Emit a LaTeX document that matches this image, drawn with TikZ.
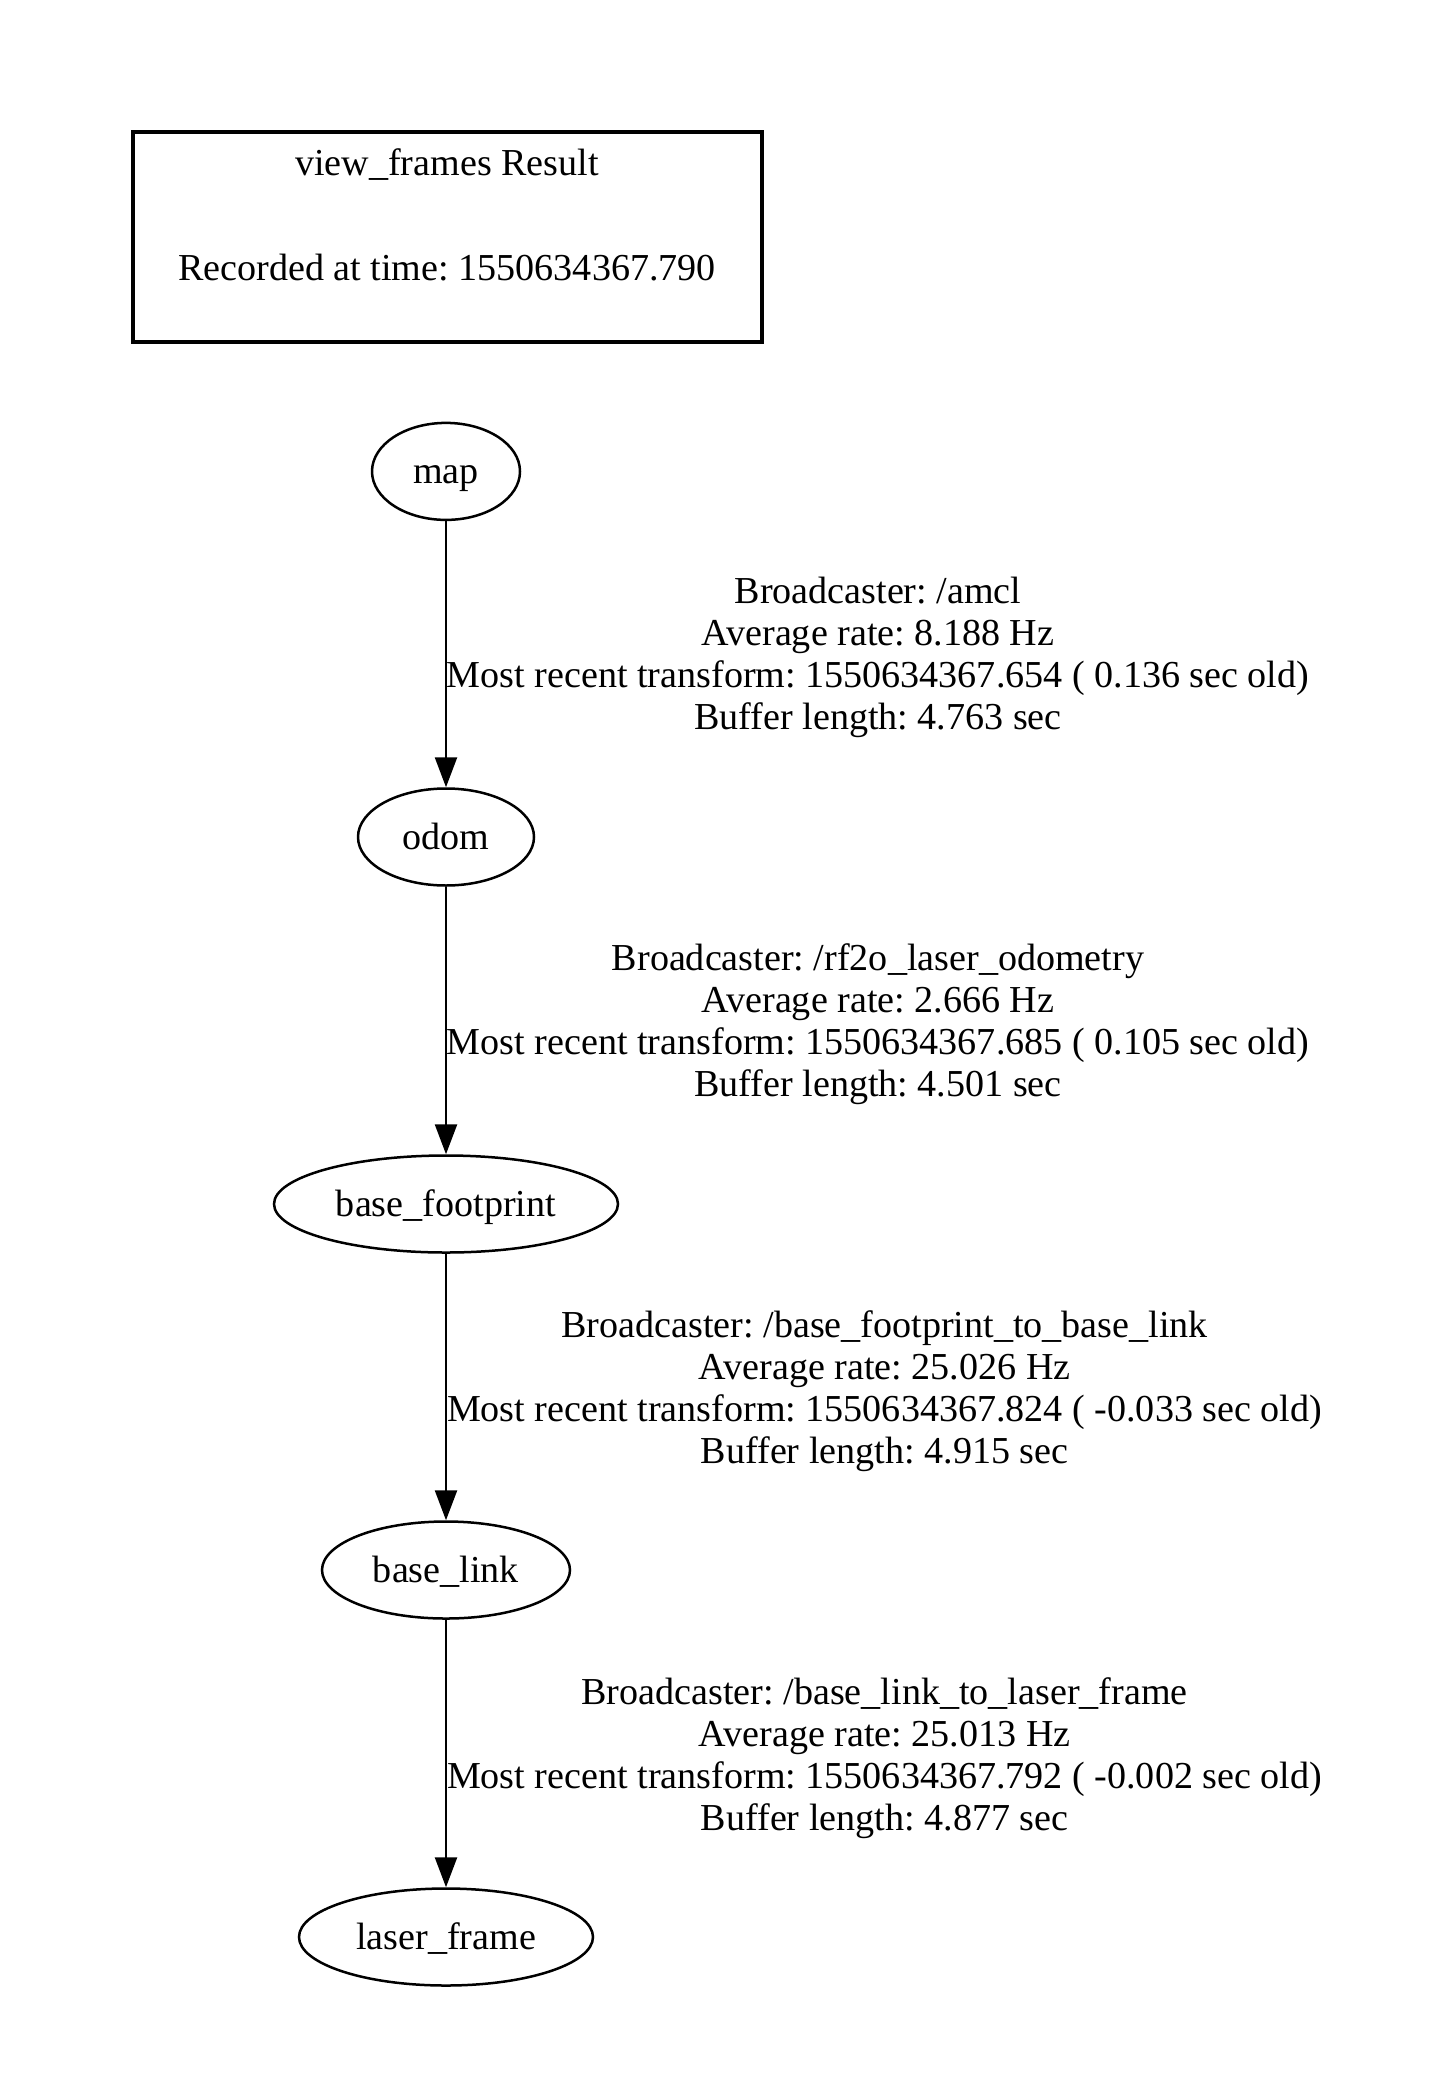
\documentclass[tikz,border=0pt]{standalone}
\usepackage{fontspec}
\setmainfont{Liberation Serif}
\usetikzlibrary{shapes.geometric,arrows.meta}
\frenchspacing
\begin{document}
\begin{tikzpicture}[x=1pt,y=-1pt,
  every node/.style={font=\fontsize{38.1}{42}\selectfont},
  frame/.style={draw,ellipse,line width=2.5pt,inner sep=0pt,minimum height=97pt,text height=30pt,text depth=6pt},
  edge/.style={draw,line width=2.5pt,-{Triangle[length=30pt,width=22pt]}},
  elabel/.style={align=center,inner sep=0pt}]
\useasboundingbox (0,0) rectangle (1437,2100);
\node[draw,line width=4pt,minimum width=629pt,minimum height=209pt,inner sep=0pt] (title) at (447,237) {};
\node (t1) at (447,165) {view\_frames Result};
\node (t2) at (447,268) {Recorded at time: 1550634367.790};
\node[frame,minimum width=148pt] (map) at (446,471.4) {map};
\node[frame,minimum width=176pt] (odom) at (446,837) {odom};
\node[frame,minimum width=344pt] (bfp) at (446,1204) {base\_footprint};
\node[frame,minimum width=248pt] (bl) at (446,1570) {base\_link};
\node[frame,minimum width=294pt] (lf) at (446,1937) {laser\_frame};
\draw[edge] (map) -- (odom);
\draw[edge] (odom) -- (bfp);
\draw[edge] (bfp) -- (bl);
\draw[edge] (bl) -- (lf);
\node[elabel] (l1) at (878,657.6) {Broadcaster: /amcl\\Average rate: 8.188 Hz\\Most recent transform: 1550634367.654 ( 0.136 sec old)\\Buffer length: 4.763 sec};
\node[elabel] (l2) at (878,1023.9) {Broadcaster: /rf2o\_laser\_odometry\\Average rate: 2.666 Hz\\Most recent transform: 1550634367.685 ( 0.105 sec old)\\Buffer length: 4.501 sec};
\node[elabel] (l3) at (884.6,1390.8) {Broadcaster: /base\_footprint\_to\_base\_link\\Average rate: 25.026 Hz\\Most recent transform: 1550634367.824 ( -0.033 sec old)\\Buffer length: 4.915 sec};
\node[elabel] (l4) at (884.6,1757.8) {Broadcaster: /base\_link\_to\_laser\_frame\\Average rate: 25.013 Hz\\Most recent transform: 1550634367.792 ( -0.002 sec old)\\Buffer length: 4.877 sec};
\end{tikzpicture}
\end{document}
